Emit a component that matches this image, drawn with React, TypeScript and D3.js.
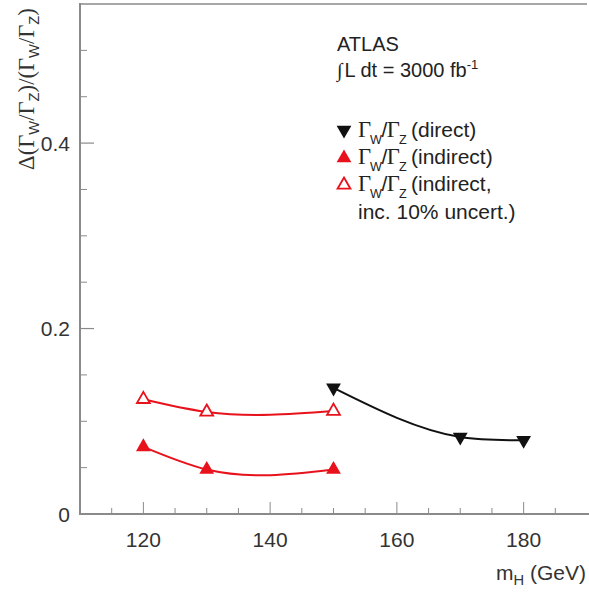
import React from "react";
import * as d3 from "d3";

// Relative precision of Gamma_W / Gamma_Z versus Higgs mass
const massDirect = [150, 170, 180];
const relDirect = [0.136, 0.083, 0.0796];

const massIndirect = [120, 130, 150];
const relIndirect = [0.0724, 0.048, 0.048];
const relIndirectUnc = [0.1237, 0.110, 0.111];

const xMajorTicks = [120, 140, 160, 180];
const xMinorTicks = d3.range(115, 190, 5);
const yMajorTicks = [0, 0.2, 0.4];
const yMinorTicks = d3.range(0.05, 0.55, 0.05);

const W = 589;
const H = 592;
const left = 80;
const right = 587;
const top = 4;
const bottom = 514;

const RED = "#e8121c";
const AXIS = "#8a8a8a";
const SANS = "'Liberation Sans', Arial, sans-serif";
const SERIF = "'Liberation Serif', 'Times New Roman', serif";

// Natural cubic spline parameterised by x (smooth curve through the points)
class NaturalX {
  _context: any;
  _xs: number[] = [];
  _ys: number[] = [];
  _line = NaN;
  constructor(context: any) {
    this._context = context;
  }
  areaStart() {
    this._line = 0;
  }
  areaEnd() {
    this._line = NaN;
  }
  lineStart() {
    this._xs = [];
    this._ys = [];
  }
  point(x: number, y: number) {
    this._xs.push(+x);
    this._ys.push(+y);
  }
  lineEnd() {
    const xs = this._xs;
    const ys = this._ys;
    const n = xs.length;
    const ctx = this._context;
    if (!n) return;
    ctx.moveTo(xs[0], ys[0]);
    if (n === 2) {
      ctx.lineTo(xs[1], ys[1]);
      return;
    }
    const h: number[] = [];
    for (let i = 0; i < n - 1; i++) h.push(xs[i + 1] - xs[i]);
    const M = new Array(n).fill(0);
    const m = n - 2;
    const a: number[] = [], b: number[] = [], c: number[] = [], d: number[] = [];
    for (let i = 1; i <= m; i++) {
      a.push(h[i - 1]);
      b.push(2 * (h[i - 1] + h[i]));
      c.push(h[i]);
      d.push(6 * ((ys[i + 1] - ys[i]) / h[i] - (ys[i] - ys[i - 1]) / h[i - 1]));
    }
    for (let i = 1; i < m; i++) {
      const w = a[i] / b[i - 1];
      b[i] -= w * c[i - 1];
      d[i] -= w * d[i - 1];
    }
    const sol = new Array(m).fill(0);
    sol[m - 1] = d[m - 1] / b[m - 1];
    for (let i = m - 2; i >= 0; i--) sol[i] = (d[i] - c[i] * sol[i + 1]) / b[i];
    for (let i = 0; i < m; i++) M[i + 1] = sol[i];
    for (let i = 0; i < n - 1; i++) {
      const hi = h[i];
      const slope = (ys[i + 1] - ys[i]) / hi;
      const d0 = slope - (hi * (2 * M[i] + M[i + 1])) / 6;
      const d1 = slope + (hi * (M[i] + 2 * M[i + 1])) / 6;
      ctx.bezierCurveTo(
        xs[i] + hi / 3,
        ys[i] + (hi / 3) * d0,
        xs[i + 1] - hi / 3,
        ys[i + 1] - (hi / 3) * d1,
        xs[i + 1],
        ys[i + 1]
      );
    }
    if (this._line === 0) ctx.closePath();
  }
}
const curveNaturalX = (context: any) => new NaturalX(context);

const x = d3.scaleLinear().domain([110, 190]).range([left, right]);
const y = d3.scaleLinear().domain([0, 0.55]).range([bottom, top]);

function seriesPath(xs: number[], ys: number[]) {
  const pts = xs.map((v, i) => [v, ys[i]] as [number, number]);
  return d3
    .line<[number, number]>()
    .x((p) => x(p[0]))
    .y((p) => y(p[1]))
    .curve(curveNaturalX as any)(pts) as string;
}

const triangle = d3.symbol(d3.symbolTriangle, 95)() as string;
const openTriangle = d3.symbol(d3.symbolTriangle, 72)() as string;

function Marker({ cx, cy, kind }: { cx: number; cy: number; kind: string }) {
  if (kind === "down")
    return <path d={triangle} transform={`translate(${cx},${cy}) rotate(180)`} fill="#111" />;
  if (kind === "up")
    return <path d={triangle} transform={`translate(${cx},${cy})`} fill={RED} />;
  return (
    <path
      d={openTriangle}
      transform={`translate(${cx},${cy})`}
      fill="white"
      stroke={RED}
      strokeWidth={1.8}
    />
  );
}

// Γ_W/Γ_Z with serif gammas and compact sans subscripts
function GammaRatio({ size }: { size: number }) {
  const sub = size * 0.6;
  const dy = size * 0.32;
  return (
    <>
      <tspan fontFamily={SERIF} fontSize={size * 1.08}>Γ</tspan>
      <tspan fontSize={sub} dy={dy} dx={-1}>W</tspan>
      <tspan dy={-dy} dx={-0.5}>/</tspan>
      <tspan fontFamily={SERIF} fontSize={size * 1.08} dx={-0.5}>Γ</tspan>
      <tspan fontSize={sub} dy={dy} dx={-1}>Z</tspan>
      <tspan dy={-dy} dx={-1.5}> </tspan>
    </>
  );
}

export default function App() {
  const fs = 21;
  const tf = 20;
  const legendX = 344;
  const textX = 358;
  const rows = [131, 158, 185];
  const yl = 21;
  return (
    <svg
      width={W}
      height={H}
      style={{ position: "absolute", left: 0, top: 0, background: "white" }}
      fontFamily={SANS}
    >
      <rect x={0} y={0} width={W} height={H} fill="white" />

      {/* frame */}
      <line x1={left} x2={right} y1={top} y2={top} stroke={AXIS} strokeWidth={1.5} />
      <line x1={left} x2={left} y1={top - 1} y2={bottom} stroke={AXIS} strokeWidth={2} />
      <line x1={left - 1} x2={W} y1={bottom} y2={bottom} stroke={AXIS} strokeWidth={2} />

      {/* y ticks */}
      {yMajorTicks.map((t) => (
        <g key={"ym" + t}>
          <line x1={left} x2={left + 14} y1={y(t)} y2={y(t)} stroke={AXIS} strokeWidth={1.2} />
          <text x={70} y={y(t) + 7.5} fontSize={fs} textAnchor="end" fill="#333">
            {t === 0 ? "0" : d3.format(".1f")(t)}
          </text>
        </g>
      ))}
      {yMinorTicks
        .filter((t) => !yMajorTicks.some((m) => Math.abs(m - t) < 1e-6))
        .map((t) => (
          <line key={"yn" + t} x1={left} x2={left + 7} y1={y(t)} y2={y(t)} stroke={AXIS} strokeWidth={1} />
        ))}

      {/* x ticks */}
      {xMinorTicks.map((t) => {
        const major = xMajorTicks.includes(t);
        return (
          <line
            key={"xt" + t}
            x1={x(t)}
            x2={x(t)}
            y1={bottom}
            y2={bottom - (major ? 12 : 6)}
            stroke={AXIS}
            strokeWidth={1}
          />
        );
      })}
      {xMajorTicks.map((t) => (
        <text key={"xl" + t} x={x(t)} y={547} fontSize={fs} textAnchor="middle" fill="#333">
          {t}
        </text>
      ))}

      {/* axis titles */}
      <text x={586} y={580} fontSize={fs} textAnchor="end" fill="#333">
        m<tspan fontSize={fs * 0.7} dy={5}>H</tspan>
        <tspan dy={-5}> (GeV)</tspan>
      </text>
      <text transform="translate(34,89) rotate(-90)" fontSize={yl} textAnchor="middle" fill="#333">
        <tspan fontFamily={SERIF} fontSize={yl * 1.08}>Δ(Γ</tspan>
        <tspan fontSize={yl * 0.7} dy={5}>W</tspan>
        <tspan dy={-5} fontFamily={SERIF} fontSize={yl * 1.08}>/Γ</tspan>
        <tspan fontSize={yl * 0.7} dy={5}>Z</tspan>
        <tspan dy={-5} fontFamily={SERIF} fontSize={yl * 1.08}>)/(Γ</tspan>
        <tspan fontSize={yl * 0.7} dy={5}>W</tspan>
        <tspan dy={-5} fontFamily={SERIF} fontSize={yl * 1.08}>/Γ</tspan>
        <tspan fontSize={yl * 0.7} dy={5}>Z</tspan>
        <tspan dy={-5} fontFamily={SERIF} fontSize={yl * 1.08}>)</tspan>
      </text>

      {/* curves */}
      <path d={seriesPath(massIndirect, relIndirectUnc)} fill="none" stroke={RED} strokeWidth={2} />
      <path d={seriesPath(massIndirect, relIndirect)} fill="none" stroke={RED} strokeWidth={2} />
      <path d={seriesPath(massDirect, relDirect)} fill="none" stroke="#111" strokeWidth={2} />

      {/* markers */}
      {massIndirect.map((m, i) => (
        <Marker key={"o" + m} cx={x(m)} cy={y(relIndirectUnc[i])} kind="open" />
      ))}
      {massIndirect.map((m, i) => (
        <Marker key={"u" + m} cx={x(m)} cy={y(relIndirect[i])} kind="up" />
      ))}
      {massDirect.map((m, i) => (
        <Marker key={"d" + m} cx={x(m)} cy={y(relDirect[i])} kind="down" />
      ))}

      {/* labels */}
      <text x={337} y={51} fontSize={tf} fill="#222">ATLAS</text>
      <text x={337} y={77} fontSize={tf} fill="#222">
        <tspan fontFamily={SERIF}>∫</tspan>
        <tspan dx={2}>L dt = 3000 fb</tspan>
        <tspan fontSize={tf * 0.65} dy={-8}>-1</tspan>
      </text>

      {/* legend */}
      <Marker cx={legendX} cy={rows[0] - 1} kind="down" />
      <Marker cx={legendX} cy={rows[1]} kind="up" />
      <Marker cx={legendX} cy={rows[2]} kind="open" />
      <text x={textX} y={rows[0] + 6} fontSize={fs} fill="#222">
        <GammaRatio size={fs} />(direct)
      </text>
      <text x={textX} y={rows[1] + 6} fontSize={fs} fill="#222">
        <GammaRatio size={fs} />(indirect)
      </text>
      <text x={textX} y={rows[2] + 6} fontSize={fs} fill="#222">
        <GammaRatio size={fs} />(indirect,
      </text>
      <text x={textX} y={rows[2] + 34} fontSize={fs} fill="#222">
        inc. 10% uncert.)
      </text>
    </svg>
  );
}
